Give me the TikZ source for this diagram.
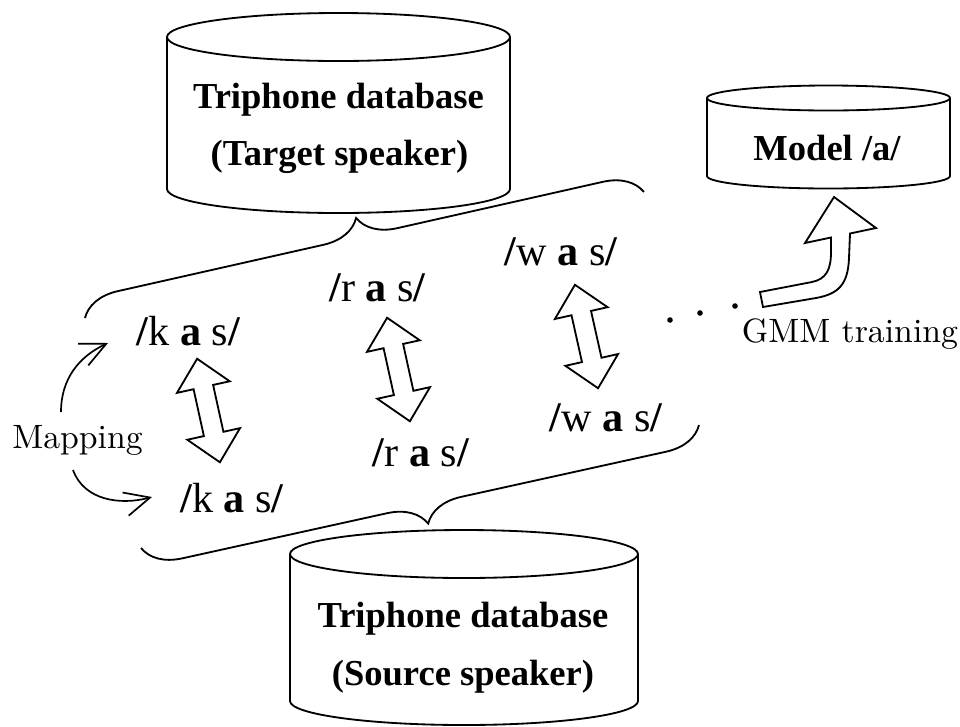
\documentclass[tikz,border=0pt]{standalone}
\usepackage{fontspec}
\newfontfamily\tnr{Liberation Serif}
\newfontfamily\cmten{lmroman10-regular.otf}
\usetikzlibrary{decorations.pathreplacing,arrows.meta}
\tikzset{
  cylline/.style={line width=1.3pt},
  blk/.style={line width=1.3pt, line join=miter, fill=white},
  dbtext/.style={font=\tnr\bfseries\fontsize{26}{30}\selectfont, anchor=base, inner sep=0pt},
  phon/.style={font=\tnr\fontsize{30}{34}\selectfont, anchor=base, inner sep=0pt},
  cmtext/.style={font=\cmten\fontsize{24}{28}\selectfont, anchor=base, inner sep=0pt},
  bracestyle/.style={line width=1.3pt, decorate, decoration={brace, amplitude=27pt, aspect=0.5}},
  maparrow/.style={line width=1.2pt, -{Straight Barb[length=18pt,width=17pt,line width=1.2pt]}}
}
\newcommand\phn[1]{\textbf{/}#1 \textbf{a} s\textbf{/}}
\begin{document}
\begin{tikzpicture}[x=0.025cm,y=0.025cm]
\useasboundingbox (0,0) rectangle (960,-726);

% ---- top cylinder (target speaker)
\draw[cylline] (167,-37) -- (167,-189) arc[start angle=180,end angle=360,x radius=171.5,y radius=24] -- (510,-37);
\draw[cylline] (338.5,-37) ellipse[x radius=171.5,y radius=24];
\node[dbtext] (tgtA) at (338.5,-108) {Triphone database};
\node[dbtext] (tgtB) at (339.5,-165) {(Target speaker)};

% ---- model cylinder
\draw[cylline] (707,-98) -- (707,-176) arc[start angle=180,end angle=360,x radius=121.5,y radius=12.5] -- (950,-98);
\draw[cylline] (828.5,-98) ellipse[x radius=121.5,y radius=12.5];
\node[dbtext] (model) at (827,-160) {Model /a/};

% ---- bottom cylinder (source speaker)
\draw[cylline] (290,-554) -- (290,-701) arc[start angle=180,end angle=360,x radius=174,y radius=24] -- (638,-554);
\draw[cylline] (464,-554) ellipse[x radius=174,y radius=24];
\node[dbtext] (srcA) at (463,-627) {Triphone database};
\node[dbtext] (srcB) at (463,-685) {(Source speaker)};

% ---- phoneme labels
\node[phon] (ktop) at (188.5,-345) {\phn{k}};
\node[phon] (rtop) at (377.5,-301) {\phn{r}};
\node[phon] (wtop) at (561,-265) {\phn{w}};
\node[phon] (kbot) at (232,-512) {\phn{k}};
\node[phon] (rbot) at (421,-466) {\phn{r}};
\node[phon] (wbot) at (606,-431) {\phn{w}};

\node[cmtext] (map) at (77.5,-448) {Mapping};
\node[cmtext] (gmm) at (850,-342) {GMM training};

% ---- braces
\coordinate (tbL) at (85,-318);
\coordinate (tbR) at (644,-192);
\coordinate (bbR) at (699,-425);
\coordinate (bbL) at (141,-548);
\draw[bracestyle] (tbL) -- (tbR);
\draw[bracestyle] (bbR) -- (bbL);

% ---- double block arrows
\foreach \cx/\cy/\ang in {208.5/410.5/-77.6, 398.5/369.5/-77.6, 586.5/336.5/-77.4}{
  \begin{scope}[shift={(\cx,-\cy)}, rotate=\ang]
    \draw[blk] (-53,0) -- (-24,27) -- (-24,10) -- (24,10) -- (24,27) -- (53,0)
      -- (24,-27) -- (24,-10) -- (-24,-10) -- (-24,-27) -- cycle;
  \end{scope}
}

% ---- mapping arrows
\coordinate (m1s) at (61,-412);
\coordinate (m1e) at (108,-343);
\coordinate (m2s) at (73,-470);
\coordinate (m2e) at (152,-497);
\draw[maparrow] (m1s) to[out=90,in=205] (m1e);
\draw[maparrow] (m2s) to[out=-70,in=195] (m2e);

% ---- dots
\fill (670,-320) circle[radius=2.8];
\fill (700,-313) circle[radius=2.8];
\fill (735,-306) circle[radius=2.8];

% ---- curved block arrow (GMM training)
\draw[blk] (760,-292) -- (812,-282) .. controls (826,-279) and (831,-270) .. (831,-252)
  -- (831,-237.5) -- (805,-243) -- (834,-197) -- (876,-228) -- (850,-233.5)
  -- (849,-258) .. controls (848,-285) and (838,-294) .. (816,-298) -- (763,-307) -- cycle;
\end{tikzpicture}
\end{document}
